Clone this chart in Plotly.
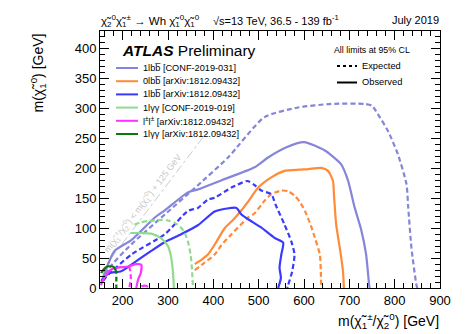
import plotly.graph_objects as go

# 1lbb CONF-2019-031
lbb_conf_exp_x = [155, 170, 219, 293, 366, 432, 513, 587, 660, 734, 750, 763, 785, 807, 826, 830, 837, 848, 850]
lbb_conf_exp_y = [10, 33, 73, 123, 172, 218, 286, 302, 308, 308, 305, 291, 263, 224, 174, 134, 67, 5, 0]
lbb_conf_obs_x = [153, 182, 219, 271, 293, 344, 366, 417, 491, 520, 560, 600, 646, 682, 697, 712, 726, 737, 744, 745]
lbb_conf_obs_y = [10, 62, 80, 118, 130, 160, 165, 180, 202, 218, 235, 244, 230, 207, 180, 134, 98, 56, 3, 0]

# 0lbb arXiv:1812.09432
olbb_exp_x = [359, 380, 403, 418, 440, 477, 491, 513, 528, 550, 565, 580, 590, 602, 615, 624, 635, 637, 638]
olbb_exp_y = [30, 42, 56, 72, 90, 118, 125, 146, 157, 163, 162, 154, 145, 129, 105, 84, 56, 30, 0]
olbb_obs_x = [359, 375, 388, 405, 425, 445, 462, 480, 499, 528, 557, 590, 610, 638, 653, 664, 666, 671, 679, 686, 688]
olbb_obs_y = [40, 48, 56, 75, 100, 115, 130, 148, 168, 185, 196, 198, 199, 201, 196, 179, 157, 106, 67, 28, 0]

# 1lbb arXiv:1812.09432
lbb_arx_exp_x = [157, 168, 219, 293, 344, 366, 388, 403, 440, 475, 491, 506, 528, 537, 557, 572, 579, 574, 565, 563]
lbb_arx_exp_y = [12, 22, 56, 90, 129, 134, 148, 151, 168, 179, 172, 163, 157, 140, 106, 78, 56, 28, 5, 0]
lbb_arx_obs_x = [153, 170, 197, 234, 263, 293, 329, 366, 403, 430, 451, 462, 477, 506, 535, 554, 550, 546, 549, 543]
lbb_arx_obs_y = [12, 25, 28, 47, 62, 77, 90, 105, 128, 133, 134, 123, 115, 101, 84, 76, 56, 34, 17, 0]

# 1lyy CONF-2019-019
lyy_conf_exp_x = [226, 240, 256, 285, 300, 315, 330, 337, 344, 350, 353, 355]
lyy_conf_exp_y = [106, 110, 112, 114, 113, 109, 100, 92, 78, 55, 30, 0]
lyy_conf_obs_x = [217, 240, 263, 285, 300, 306, 310, 312, 313]
lyy_conf_obs_y = [92, 92, 91, 83, 70, 55, 34, 15, 0]

# l+-l+- arXiv:1812.09432
ss_obs_x = [152, 160, 175, 190, 212, 230, 241, 240, 234, 230]
ss_obs_y = [5, 18, 31, 34, 36, 40, 39, 25, 14, 0]
ss_obs2_x = [241, 248, 256]
ss_obs2_y = [3, 4, 2]
ss_exp_x = [214, 217, 218, 216, 215]
ss_exp_y = [36, 28, 15, 6, 0]

# 1lyy arXiv:1812.09432
lyy_arx_obs_x = [153, 158, 166, 178, 184]
lyy_arx_obs_y = [25, 31, 36, 36, 32]
lyy_arx_exp_x = [184, 186, 186, 186]
lyy_arx_exp_y = [32, 24, 12, 0]

# kinematic limit
diag_x = [150, 385]
diag_y = [25, 260]

c_lblue = '#8585d9'
c_orange = '#ff8a38'
c_blue = '#3a3aff'
c_lgreen = '#8fdc8f'
c_mag = '#ff33ff'
c_dgreen = '#087a08'
font = 'Liberation Sans'

fig = go.Figure()

fig.add_trace(go.Scatter(x=diag_x, y=diag_y, mode='lines',
                         line=dict(color='#cccccc', width=1, dash='dashdot'), showlegend=False))

curves = [
    (lbb_conf_exp_x, lbb_conf_exp_y, c_lblue, True),
    (lbb_conf_obs_x, lbb_conf_obs_y, c_lblue, False),
    (olbb_exp_x, olbb_exp_y, c_orange, True),
    (olbb_obs_x, olbb_obs_y, c_orange, False),
    (lbb_arx_exp_x, lbb_arx_exp_y, c_blue, True),
    (lbb_arx_obs_x, lbb_arx_obs_y, c_blue, False),
    (lyy_conf_exp_x, lyy_conf_exp_y, c_lgreen, True),
    (lyy_conf_obs_x, lyy_conf_obs_y, c_lgreen, False),
    (ss_exp_x, ss_exp_y, c_mag, True),
    (ss_obs_x, ss_obs_y, c_mag, False),
    (ss_obs2_x, ss_obs2_y, c_mag, False),
    (lyy_arx_exp_x, lyy_arx_exp_y, c_dgreen, True),
    (lyy_arx_obs_x, lyy_arx_obs_y, c_dgreen, False),
]
for xs, ys, col, dashed in curves:
    fig.add_trace(go.Scatter(x=xs, y=ys, mode='lines',
                             line=dict(color=col, width=2.2, dash='5px,3px' if dashed else 'solid',
                                       shape='spline', smoothing=0.6),
                             showlegend=False, hoverinfo='skip'))

# legend drawn by hand (ROOT style, tight rows)
leg_labels = ['1lbb\u0305 [CONF-2019-031]', '0lbb\u0305 [arXiv:1812.09432]', '1lbb\u0305 [arXiv:1812.09432]',
              '1l\u03b3\u03b3 [CONF-2019-019]', 'l<sup>\u00b1</sup>l<sup>\u00b1</sup> [arXiv:1812.09432]',
              '1l\u03b3\u03b3 [arXiv:1812.09432]']
leg_colors = [c_lblue, c_orange, c_blue, c_lgreen, c_mag, c_dgreen]

W, H = 465, 334
ml, mr, mt, mb = 92, 33, 23, 54
pw, ph = W - ml - mr, H - mt - mb
def px(x): return (x - ml) / pw
def py(y): return (H - mb - y) / ph

for i, (lab, col) in enumerate(zip(leg_labels, leg_colors)):
    yy = 60 + i * 13.2
    fig.add_shape(type='line', xref='paper', yref='paper', x0=px(108), x1=px(130), y0=py(yy), y1=py(yy),
                  line=dict(color=col, width=2))
    fig.add_annotation(xref='paper', yref='paper', x=px(133), y=py(yy), text=lab, showarrow=False,
                       xanchor='left', yanchor='middle', font=dict(family=font, size=9.2, color='black'))

fig.add_annotation(xref='paper', yref='paper', x=px(112), y=py(43),
                   text='<b><i>ATLAS</i></b> Preliminary', showarrow=False, xanchor='left', yanchor='middle',
                   font=dict(family=font, size=15.5, color='black'))

fig.add_annotation(xref='paper', yref='paper', x=px(324), y=py(42), text='All limits at 95% CL',
                   showarrow=False, xanchor='left', yanchor='middle', font=dict(family=font, size=8.8, color='black'))
for yy, lab, dsh in [(58, 'Expected', 'dot'), (74.5, 'Observed', 'solid')]:
    fig.add_shape(type='line', xref='paper', yref='paper', x0=px(329), x1=px(349), y0=py(yy), y1=py(yy),
                  line=dict(color='black', width=2, dash=dsh))
    fig.add_annotation(xref='paper', yref='paper', x=px(352), y=py(yy), text=lab, showarrow=False,
                       xanchor='left', yanchor='middle', font=dict(family=font, size=9.3, color='black'))

chi = '\u03c7\u0303'
fig.add_annotation(xref='paper', yref='paper', x=px(91), y=py(13),
                   text=f'{chi}<sub>2</sub><sup>0</sup>{chi}<sub>1</sub><sup>\u00b1</sup> \u2192 Wh {chi}<sub>1</sub><sup>0</sup>{chi}<sub>1</sub><sup>0</sup>',
                   showarrow=False, xanchor='left', yanchor='middle', font=dict(family=font, size=11.5, color='black'))
fig.add_annotation(xref='paper', yref='paper', x=px(203), y=py(12),
                   text='\u221as=13 TeV, 36.5 - 139 fb<sup>-1</sup>', showarrow=False, xanchor='left',
                   yanchor='middle', font=dict(family=font, size=11, color='black'))
fig.add_annotation(xref='paper', yref='paper', x=px(433), y=py(12), text='July 2019', showarrow=False,
                   xanchor='right', yanchor='middle', font=dict(family=font, size=11, color='black'))

fig.add_annotation(xref='paper', yref='paper', x=px(433), y=py(313),
                   text=f'm({chi}<sub>1</sub><sup>\u00b1</sup>/{chi}<sub>2</sub><sup>0</sup>) [GeV]',
                   showarrow=False, xanchor='right', yanchor='middle', font=dict(family=font, size=14, color='black'))
fig.add_annotation(xref='paper', yref='paper', x=px(30), y=py(24),
                   text=f'm({chi}<sub>1</sub><sup>0</sup>) [GeV]', textangle=-90,
                   showarrow=False, xanchor='center', yanchor='top', font=dict(family=font, size=14, color='black'))

fig.add_annotation(x=243, y=142, text=f'm({chi}<sub>1</sub><sup>\u00b1</sup>/{chi}<sub>2</sub><sup>0</sup>) &lt; m({chi}<sub>1</sub><sup>0</sup>) + 125 GeV',
                   textangle=-52.7, showarrow=False, font=dict(family=font, size=9, color='#c8c8c8'))

axis_common = dict(showline=True, linecolor='black', linewidth=1, mirror='ticks', ticks='inside',
                   ticklen=9, tickcolor='black', showgrid=False, zeroline=False,
                   tickfont=dict(family=font, size=13, color='black'))
fig.update_xaxes(range=[150, 900], dtick=100, tick0=0,
                 minor=dict(dtick=20, ticks='inside', ticklen=5, tickcolor='black'), **axis_common)
fig.update_yaxes(range=[0, 430], dtick=50, tick0=0,
                 minor=dict(dtick=10, ticks='inside', ticklen=5, tickcolor='black'), **axis_common)

fig.update_layout(width=W, height=H, margin=dict(l=ml, r=mr, t=mt, b=mb),
                  plot_bgcolor='white', paper_bgcolor='white', showlegend=False)

fig.write_html("out.html")
